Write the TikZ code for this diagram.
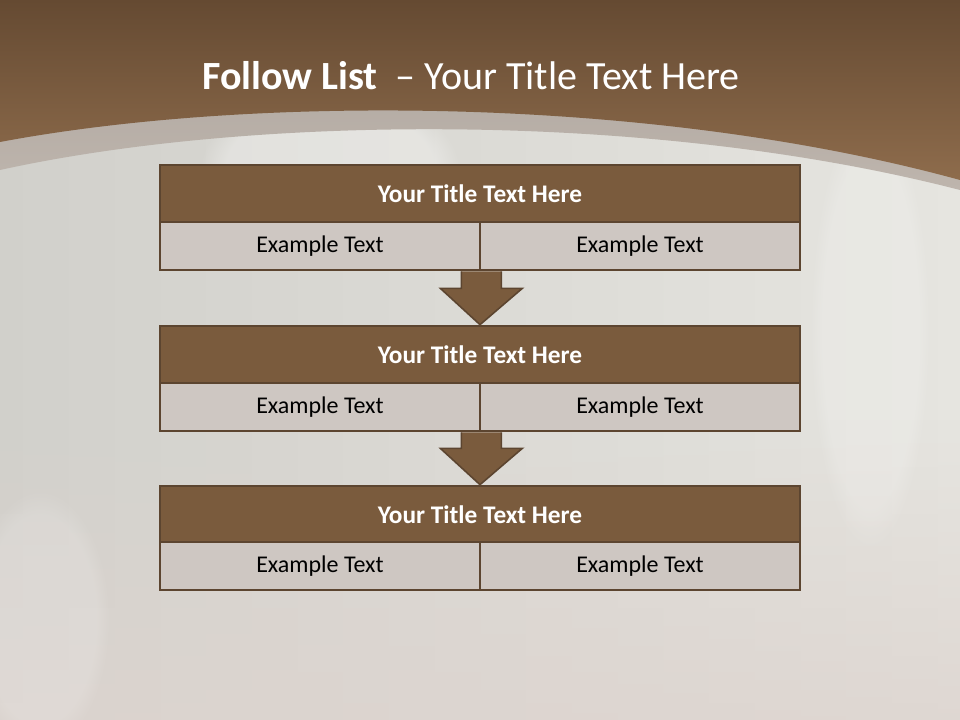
\documentclass[tikz,border=0pt]{standalone}
\usepackage{fontspec}
\setmainfont{Carlito}
\usetikzlibrary{calc,fadings}
\definecolor{hdrtop}{HTML}{654A32}
\definecolor{hdrbot}{HTML}{8E6C4C}
\definecolor{bandc}{HTML}{BEB5AD}
\definecolor{bgleft}{HTML}{D1D0CB}
\definecolor{bgright}{HTML}{E6E5E0}
\definecolor{bgpink}{HTML}{DDD4CF}
\definecolor{boxbrown}{HTML}{7A5B3D}
\definecolor{boxline}{HTML}{5C4530}
\definecolor{cellfill}{HTML}{CEC7C2}
\tikzset{
  titlebox/.style={draw=boxline, line width=2pt, fill=boxbrown, minimum width=480pt, minimum height=42.75pt, inner sep=0pt, text=white, font=\fontsize{19}{21}\selectfont\bfseries},
  cellbox/.style={draw=boxline, line width=2pt, fill=cellfill, minimum width=240pt, minimum height=36pt, inner sep=0pt, text=black, font=\fontsize{18}{20}\selectfont},
  blockarrow/.style={draw=boxline, line width=1.2pt, fill=boxbrown, line join=miter},
  glow/.style={fill=white, path fading=circle with fuzzy edge 20 percent}
}
\begin{document}
\begin{tikzpicture}[x=0.75pt, y=-0.75pt]
\useasboundingbox (0,0) rectangle (960,720);
% background
\shade[left color=bgleft, right color=bgright] (0,0) rectangle (960,720);
\fill[bgpink, path fading=north, opacity=0.8] (0,420) rectangle (960,720);
\fill[glow, opacity=0.3] (330,170) ellipse (130 and 80);
\fill[glow, opacity=0.18] (870,330) ellipse (60 and 220);
\fill[glow, opacity=0.15] (40,620) ellipse (70 and 130);
% band
\shade[top color=bandc!90!black, bottom color=bandc] (0,0) -- (960,0) -- (960,190) .. controls (650,110) and (250,115) .. (0,170) -- cycle;
% header
\shade[top color=hdrtop, bottom color=hdrbot] (0,0) -- (960,0) -- (960,180) .. controls (650,95) and (250,95) .. (0,142) -- cycle;
% title
\node[text=white, font=\fontsize{30}{34}\selectfont, inner sep=0pt] (title) at (471,76) {\textbf{Follow List}~~– Your Title Text Here};
% box 1
\node[titlebox] (t1) at (480,193.5) {Your Title Text Here};
\node[cellbox] (c1a) at (320,246) {Example Text};
\node[cellbox] (c1b) at (640,246) {Example Text};
% box 2
\node[titlebox] (t2) at (480,354.5) {Your Title Text Here};
\node[cellbox] (c2a) at (320,407) {Example Text};
\node[cellbox] (c2b) at (640,407) {Example Text};
% box 3
\node[titlebox] (t3) at (480,514.5) {Your Title Text Here};
\node[cellbox] (c3a) at (320,566) {Example Text};
\node[cellbox] (c3b) at (640,566) {Example Text};
% arrows
\draw[blockarrow] ($(c1a.south east)+(-20,0)$) -- ($(c1a.south east)+(-20,17)$) -- ($(c1a.south east)+(-41,17)$) -- (t2.north) -- ($(c1a.south east)+(41,17)$) -- ($(c1a.south east)+(20,17)$) -- ($(c1a.south east)+(20,0)$);
\draw[blockarrow] ($(c2a.south east)+(-20,0)$) -- ($(c2a.south east)+(-20,16)$) -- ($(c2a.south east)+(-41,16)$) -- (t3.north) -- ($(c2a.south east)+(41,16)$) -- ($(c2a.south east)+(20,16)$) -- ($(c2a.south east)+(20,0)$);
\end{tikzpicture}
\end{document}
